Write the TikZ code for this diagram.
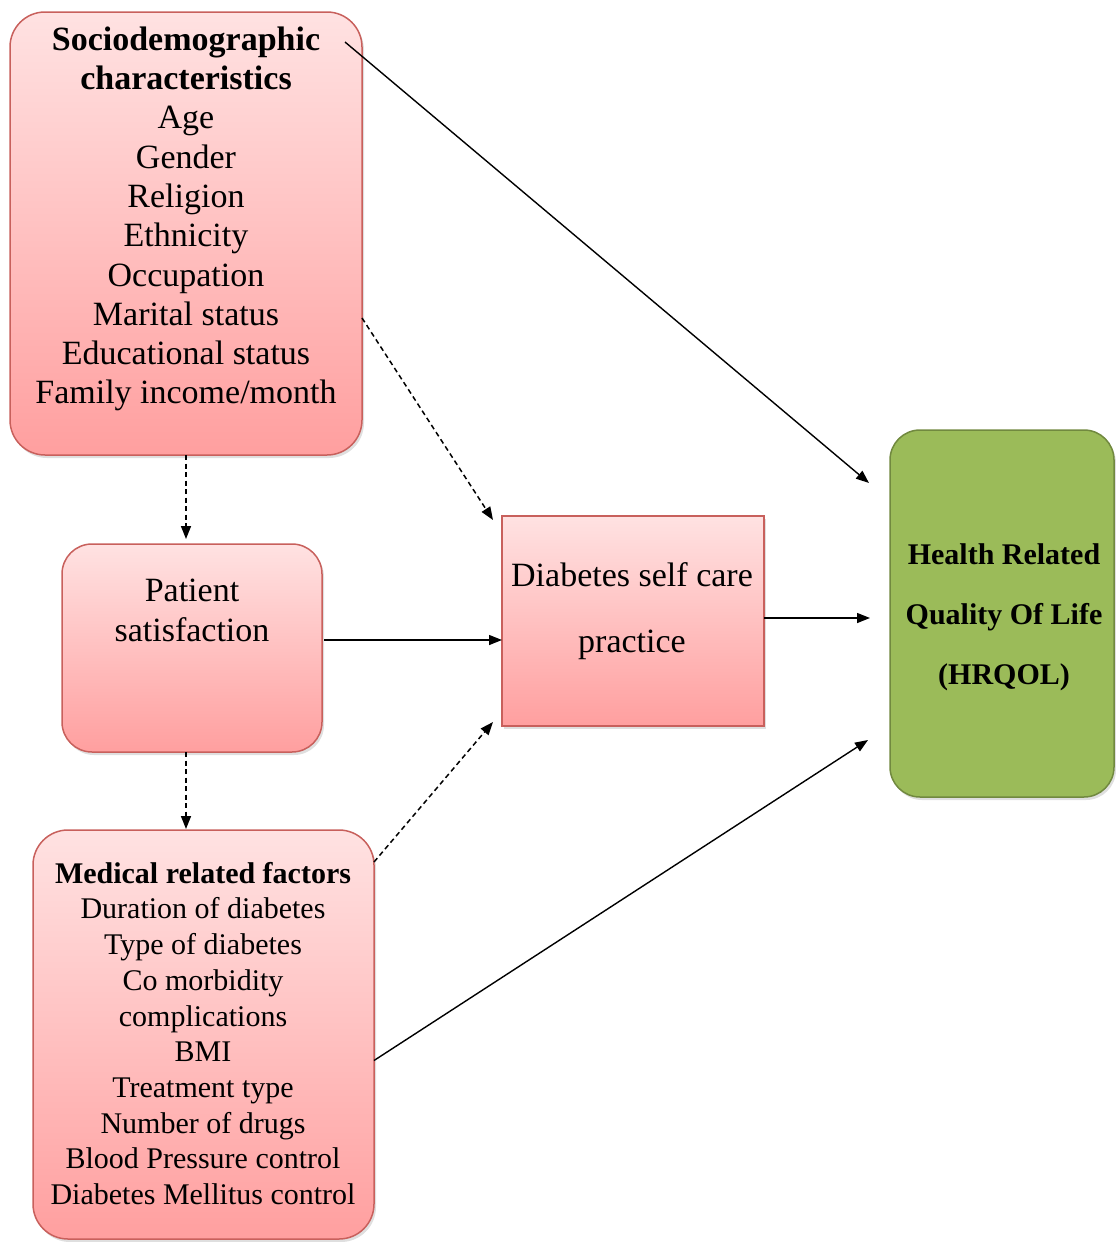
\documentclass[tikz,border=0pt]{standalone}
\usepackage{fontspec}
\setmainfont{Liberation Serif}
\usetikzlibrary{arrows.meta,calc,shadows}
\definecolor{pinktop}{HTML}{FFE2E2}
\definecolor{pinkbot}{HTML}{FF9F9F}
\definecolor{pinkline}{HTML}{C8605C}
\definecolor{greenfill}{HTML}{9BBB59}
\definecolor{greenline}{HTML}{71893F}
\tikzset{
  pinkbox/.style={draw=pinkline, line width=1.5pt, top color=pinktop, bottom color=pinkbot,
    inner sep=0pt, outer sep=0pt,
    drop shadow={opacity=0.25, shadow xshift=2pt, shadow yshift=-3pt}},
  greenbox/.style={draw=greenline, line width=1.5pt, fill=greenfill, rounded corners=30pt,
    inner sep=0pt, outer sep=0pt,
    drop shadow={opacity=0.25, shadow xshift=2pt, shadow yshift=-3pt}},
  txt/.style={align=center, inner sep=0pt, text=black},
  solidarrow/.style={draw=black, line width=1.4pt, -{Triangle[length=13pt,width=10pt]}},
  dasharrow/.style={draw=black, line width=1.5pt, dash pattern=on 5pt off 3.5pt, -{Triangle[length=13pt,width=10pt]}}
}
\begin{document}
\begin{tikzpicture}[x=1pt,y=-1pt]
\useasboundingbox (0,0) rectangle (1116,1242);
% boxes
\node[pinkbox, rounded corners=35pt, minimum width=352pt, minimum height=443pt] (soc) at (186,233.5) {};
\node[pinkbox, rounded corners=30pt, minimum width=260pt, minimum height=208pt] (pat) at (192,648) {};
\node[pinkbox, rounded corners=35pt, minimum width=341pt, minimum height=409pt] (med) at (203.5,1034.5) {};
\node[pinkbox, minimum width=262pt, minimum height=210pt] (dsc) at (633,621) {};
\node[greenbox, minimum width=224pt, minimum height=367pt] (hrq) at (1002,613.5) {};
% texts
\node[txt, font=\fontsize{34}{39.3}\selectfont] (soctxt) at (186,219) {\textbf{Sociodemographic}\\ \textbf{characteristics}\\ Age\\ Gender\\ Religion\\ Ethnicity\\ Occupation\\ Marital status\\ Educational status\\ Family income/month};
\node[txt, font=\fontsize{34}{40}\selectfont] (pattxt) at (192,610) {Patient\\ satisfaction};
\node[txt, font=\fontsize{30}{35.7}\selectfont] (medtxt) at (203,1033.5) {\textbf{Medical related factors}\\ Duration of diabetes\\ Type of diabetes\\ Co morbidity\\ complications\\ BMI\\ Treatment type\\ Number of drugs\\ Blood Pressure control\\ Diabetes Mellitus control};
\node[txt, font=\fontsize{34}{66}\selectfont] (dsctxt) at (632,611) {Diabetes self care\\ practice};
\node[txt, font=\bfseries\fontsize{30}{60}\selectfont] (hrqtxt) at (1004,617) {Health Related\\ Quality Of Life\\ (HRQOL)};
% connectors
\draw[solidarrow] ($(soc.north east)+(-17,30)$) -- ($(hrq.north west)+(-21,53)$);
\draw[dasharrow] ($(soc.north east)+(0,306)$) -- ($(dsc.north west)+(-9,4)$);
\draw[dasharrow] (soc.south) -- ($(soc.south |- pat.north)+(0,-5)$);
\draw[dasharrow] (soc.south |- pat.south) -- ($(soc.south |- med.north)+(0,-1)$);
\draw[solidarrow] ($(pat.east)+(2,-8)$) -- ($(dsc.west)+(0,19)$);
\draw[dasharrow] ($(med.north east)+(0,32)$) -- ($(dsc.south west)+(-9,-4)$);
\draw[solidarrow] ($(dsc.east)+(0,-3)$) -- ($(hrq.west)+(-20,4.5)$);
\draw[solidarrow] ($(med.east)+(0,26)$) -- ($(hrq.south west)+(-22,-57)$);
\end{tikzpicture}
\end{document}
